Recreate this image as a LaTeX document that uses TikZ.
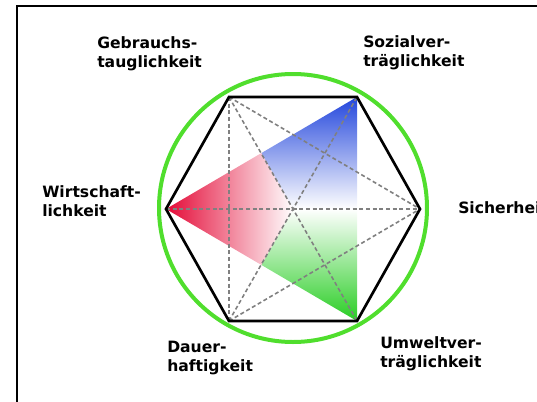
\documentclass[tikz,border=0pt]{standalone}
\usepackage{fontspec}
\setmainfont{DejaVu Sans}
\usepackage{tikz}
\usepackage{xcolor}
\usetikzlibrary{calc}
\definecolor{ringgreen}{RGB}{80,222,45}
\definecolor{cornerred}{RGB}{228,10,55}
\definecolor{cornerblue}{RGB}{35,70,220}
\definecolor{cornergreen}{RGB}{40,205,35}

\begin{document}
\begin{tikzpicture}[x=0.75pt,y=-0.75pt,
  lbl/.style={align=left, anchor=west, inner sep=0pt,
    font=\bfseries\fontsize{11.7}{14.4}\selectfont},
  diag/.style={gray, densely dashed, line width=1.2pt}]
  \useasboundingbox (0,0) rectangle (537,401);
  \clip (0,0) rectangle (537,401);
  % Frame, only its left and top edges are in view
  \draw[line width=1.5pt] (17,420) -- (17,6) -- (560,6);

  % Corners of the hexagon
  \coordinate (L) at (166,209);
  \coordinate (TL) at (229,97);
  \coordinate (TR) at (357,97);
  \coordinate (R) at (420,209);
  \coordinate (BR) at (357,321);
  \coordinate (BL) at (229,321);
  % Centre and edge midpoints of the coloured triangle
  \coordinate (M) at ($1/3*(L)+1/3*(TR)+1/3*(BR)$);
  \coordinate (LT) at ($(L)!0.5!(TR)$);
  \coordinate (LB) at ($(L)!0.5!(BR)$);
  \coordinate (RM) at ($(TR)!0.5!(BR)$);

  % Coloured triangle, fading from each corner to the centre
  \shade[left color=cornerred, right color=white] (L) -- (LT) -- (M) -- (LB) -- cycle;
  \shade[top color=cornerblue, bottom color=white] (TR) -- (RM) -- (M) -- (LT) -- cycle;
  \shade[bottom color=cornergreen, top color=white] (BR) -- (LB) -- (M) -- (RM) -- cycle;

  % Dashed diagonals
  \draw[diag] (TL) -- (BL);
  \draw[diag] (TL) -- (R);
  \draw[diag] (BL) -- (R);
  \draw[diag] (TL) -- (BR);
  \draw[diag] (BL) -- (TR);
  \draw[diag] (L) -- (R);

  % Hexagon and ring
  \draw[line width=2pt, line join=miter] (L) -- (TL) -- (TR) -- (R) -- (BR) -- (BL) -- cycle;
  \draw[ringgreen, line width=3pt] (293,208) circle (134);

  % Labels
  \node[lbl] (gebrauch) at (97,54) {Gebrauchs-\\tauglichkeit};
  \node[lbl] (sozial) at (363,53) {Sozialver-\\träglichkeit};
  \node[lbl] (wirtschaft) at (42,201) {Wirtschaft-\\lichkeit};
  \node[lbl] (sicher) at (458,208) {Sicherheit};
  \node[lbl] (dauer) at (167,358) {Dauer-\\haftigkeit};
  \node[lbl] (umwelt) at (380,354) {Umweltver-\\träglichkeit};
\end{tikzpicture}
\end{document}
